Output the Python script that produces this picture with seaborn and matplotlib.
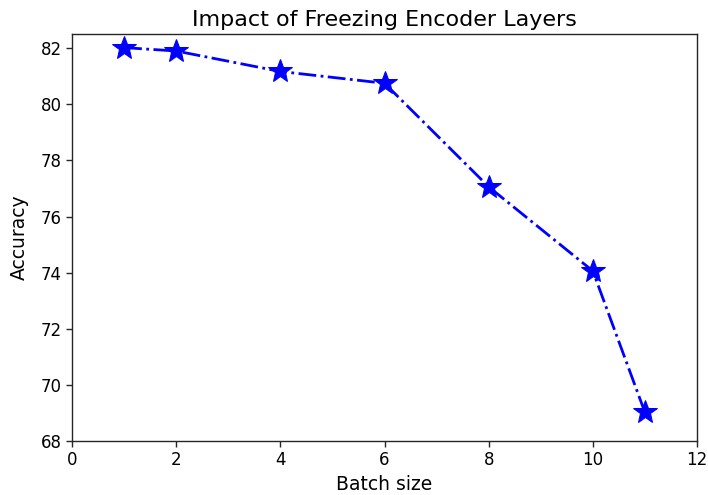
import matplotlib
matplotlib.use("Agg")
import matplotlib.pyplot as plt
import pandas as pd
import seaborn as sns

batch_size = [1, 2, 4, 6, 8, 10, 11]
accuracy = [82.02, 81.9, 81.17, 80.75, 77.06, 74.06, 69.02]

sns.set_theme(style="ticks", rc={
    "axes.edgecolor": "#262626",
    "xtick.color": "#262626",
    "ytick.color": "#262626",
    "axes.labelcolor": "black",
    "text.color": "black",
    "axes.linewidth": 1.0,
})
plt.rcParams['font.family'] = ['DejaVu Sans']

df = pd.DataFrame({"Batch size": batch_size, "Accuracy": accuracy})

fig = plt.figure(figsize=(7.08, 4.95), dpi=100)
ax = fig.add_axes([0.1017, 0.109, 0.8828, 0.822])
sns.lineplot(data=df, x="Batch size", y="Accuracy", ax=ax, color="blue",
             marker="*", markersize=18, linestyle="-.", linewidth=2,
             markeredgecolor="blue")

ax.set_xlim(0, 12)
ax.set_ylim(68, 82.5)
ax.set_yticks([68, 70, 72, 74, 76, 78, 80, 82])
ax.set_xticks([0, 2, 4, 6, 8, 10, 12])
ax.tick_params(labelsize=12, length=4, width=1, labelcolor="black")
ax.set_xlabel("Batch size", fontsize=13.5)
ax.set_ylabel("Accuracy", fontsize=13.5, labelpad=8)
ax.set_title("Impact of Freezing Encoder Layers", fontsize=16)

fig.savefig("out.png", dpi=100)
